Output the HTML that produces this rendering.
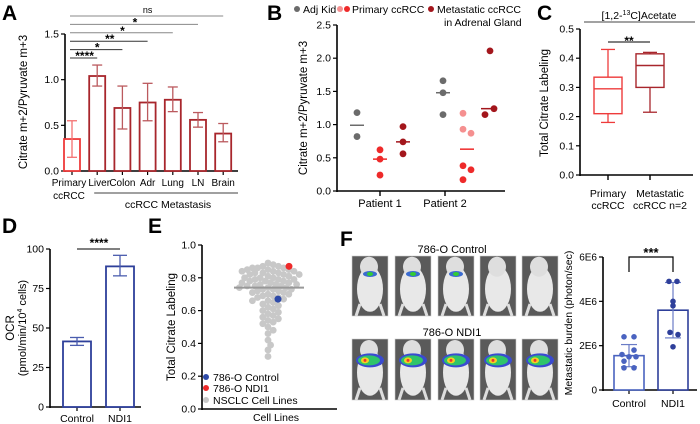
<!DOCTYPE html>
<html><head><meta charset="utf-8"><style>
html,body{margin:0;padding:0;background:#fff}
svg{display:block;font-family:"Liberation Sans",Arial,sans-serif}
</style></head><body>
<svg id="fig" width="700" height="424" viewBox="0 0 700 424" xmlns="http://www.w3.org/2000/svg">
<g font-weight="bold" font-size="21" fill="#000">
<text x="2" y="20">A</text>
<text x="267" y="20">B</text>
<text x="537" y="20">C</text>
<text x="2" y="233">D</text>
<text x="148" y="233">E</text>
<text x="340" y="246">F</text>
</g>
<g id="gA"></g>
<g id="gB"></g>
<g id="gC"></g>
<g id="gD"></g>
<g id="gE"></g>
<g id="gF"></g>
<g id="gG"></g>
</svg>
<script>
// ---------- data ----------
const aCats = ["Primary","Liver","Colon","Adr","Lung","LN","Brain"];
const aMeans = [0.35,1.04,0.69,0.75,0.78,0.56,0.41];
const aLo = [0.15,0.93,0.46,0.55,0.65,0.48,0.32];
const aHi = [0.55,1.16,0.93,0.96,0.92,0.64,0.52];
const aTicks = [0,0.5,1.0,1.5];
const aSig = ["****","*","**","*","*","ns"];

const bPatients = ["Patient 1","Patient 2"];
const bAdj1 = [1.18,0.82]; const bPri1 = [0.62,0.48,0.24]; const bMet1 = [0.97,0.74,0.56];
const bAdj2 = [1.66,1.48,1.15]; const bPri2Pink = [1.17,0.93,0.87]; const bPri2Red = [0.38,0.32,0.17]; const bMet2 = [2.11,1.24,1.15];
const bMed1 = [0.99,0.48,0.74]; const bMed2 = [1.48,0.63,1.24];
const bTicks = [0,0.5,1.0,1.5,2.0,2.5];

const cCats = ["Primary","Metastatic"];
const cMin = [0.18,0.215]; const cQ1 = [0.21,0.30]; const cMed = [0.295,0.375]; const cQ3 = [0.335,0.415]; const cMax = [0.43,0.42];
const cTicks = [0,0.1,0.2,0.3,0.4,0.5];

const dCats = ["Control","NDI1"];
const dMeans = [41.5,89]; const dLo = [39,83]; const dHi = [44,96];
const dTicks = [0,25,50,75,100];

const eVals = [0.89,0.88,0.87,0.87,0.86,0.86,0.86,0.85,0.85,0.85,0.84,0.84,0.84,0.83,0.83,0.83,0.82,0.82,0.82,0.81,0.81,0.80,0.80,0.80,0.79,0.79,0.79,0.78,0.78,0.78,0.77,0.77,0.77,0.76,0.76,0.76,0.75,0.75,0.75,0.74,0.74,0.74,0.73,0.73,0.73,0.72,0.72,0.71,0.71,0.70,0.70,0.69,0.69,0.68,0.68,0.67,0.66,0.66,0.65,0.64,0.63,0.62,0.61,0.60,0.59,0.58,0.57,0.56,0.55,0.54,0.53,0.52,0.50,0.48,0.46,0.42,0.39,0.36,0.32];
const eControl = 0.67; const eNDI1 = 0.87; const eMedian = 0.74;
const eTicks = [0,0.2,0.4,0.6,0.8,1.0];

const gCats = ["Control","NDI1"];
const gMeans = [1.55,3.6]; const gLo = [1.05,2.35]; const gHi = [2.05,4.85];
const gCtrlPts = [2.4,2.4,1.8,1.6,1.5,1.5,1.3,1.0,1.0];
const gNdiPts = [4.9,4.9,4.0,3.8,2.6,2.5,1.95];
const gTicks = [0,2,4,6];
const gTickLabels = ["0","2E6","4E6","6E6"];

// ---------- helpers ----------
const NS="http://www.w3.org/2000/svg";
function mk(parent,tag,attrs,text){const e=document.createElementNS(NS,tag);for(const k in attrs)e.setAttribute(k,attrs[k]);if(text!==undefined)e.textContent=text;parent.appendChild(e);return e;}
function fmt(v,d){return v.toFixed(d);}

// ---------- Panel A ----------
(function(){
const g=document.getElementById('gA');
const y0=171,y1=34,vmax=1.5; const Y=v=>y0-(v/vmax)*(y0-y1);
const X=i=>72+i*25.2; const ax=65;
let e;
e=mk(g,'line',{x1:ax,y1:y1,x2:ax,y2:y0+1,stroke:'#000','stroke-width':1.6});

e=mk(g,'line',{x1:ax,y1:y0,x2:238,y2:y0,stroke:'#000','stroke-width':1.6});

aTicks.forEach(t=>{mk(g,'line',{x1:ax-4,y1:Y(t),x2:ax,y2:Y(t),stroke:'#000','stroke-width':1.2});
 e=mk(g,'text',{x:ax-6,y:Y(t)+3.5,'text-anchor':'end','font-size':10.5},fmt(t,1));
 });
aCats.forEach((c,i)=>{const col=i===0?'#ee3b3b':'#a8262c';
 mk(g,'line',{x1:X(i),y1:y0,x2:X(i),y2:y0+4,stroke:'#000','stroke-width':1.2});
 e=mk(g,'rect',{x:X(i)-8,y:Y(aMeans[i]),width:16,height:y0-Y(aMeans[i]),fill:'#fff',stroke:col,'stroke-width':1.8});
 
 const ec=i===0?'#f47070':'#bb5a5e';
 mk(g,'line',{x1:X(i),y1:Y(aLo[i]),x2:X(i),y2:Y(aHi[i]),stroke:ec,'stroke-width':1.3});
 mk(g,'line',{x1:X(i)-5,y1:Y(aLo[i]),x2:X(i)+5,y2:Y(aLo[i]),stroke:ec,'stroke-width':1.3});
 mk(g,'line',{x1:X(i)-5,y1:Y(aHi[i]),x2:X(i)+5,y2:Y(aHi[i]),stroke:ec,'stroke-width':1.3});
 e=mk(g,'text',{x:X(i)+(i===0?-3:i===1?2:0),y:186,'text-anchor':'middle','font-size':10},c);
 
});
mk(g,'text',{x:X(0)-3,y:199,'text-anchor':'middle','font-size':10},'ccRCC');
mk(g,'line',{x1:X(1)-3,y1:193,x2:238,y2:193,stroke:'#000','stroke-width':0.8});
e=mk(g,'text',{x:168,y:208,'text-anchor':'middle','font-size':10.5},'ccRCC Metastasis');

aSig.forEach((s,k)=>{const yy=58-k*8.4; const x2=X(k+1);
 e=mk(g,'line',{x1:X(0)-2,y1:yy,x2:x2,y2:yy,stroke:k<3?'#333':'#888','stroke-width':1});
 
 mk(g,'text',{x:(X(0)+x2)/2,y:yy-(s==='ns'?3:0)+(s==='ns'?0:2),'text-anchor':'middle','font-size':s==='ns'?9:12,'font-weight':s==='ns'?'normal':'bold'},s);
});
e=mk(g,'text',{transform:'translate(27,102) rotate(-90)','text-anchor':'middle','font-size':11.5},'Citrate m+2/Pyruvate m+3');

})();

// ---------- Panel B ----------
(function(){
const g=document.getElementById('gB');
const y0=191,y1=25,vmax=2.5; const Y=v=>y0-(v/vmax)*(y0-y1); const ax=337;
let e;
e=mk(g,'line',{x1:ax,y1:y1,x2:ax,y2:y0+1,stroke:'#000','stroke-width':1.6});

e=mk(g,'line',{x1:ax,y1:y0,x2:505,y2:y0,stroke:'#000','stroke-width':1.6});

bTicks.forEach(t=>{mk(g,'line',{x1:ax-4,y1:Y(t),x2:ax,y2:Y(t),stroke:'#000','stroke-width':1.2});
 mk(g,'text',{x:ax-6,y:Y(t)+3.5,'text-anchor':'end','font-size':10.5},fmt(t,1));});
const pc=[380,445];
bPatients.forEach((p,i)=>{mk(g,'line',{x1:pc[i],y1:y0,x2:pc[i],y2:y0+5,stroke:'#000','stroke-width':1.4});
 e=mk(g,'text',{x:pc[i],y:207,'text-anchor':'middle','font-size':11},p);
 });
const gray='#6b6b6b',pink='#f59090',red='#ee2a2a',dred='#a3161c';
function dots(vals,x,col,name,jit){vals.forEach((v,k)=>{e=mk(g,'circle',{cx:x+(jit?jit[k]:0),cy:Y(v),r:3.4,fill:col});
 });}
function med(v,x,col){mk(g,'line',{x1:x-7,y1:Y(v),x2:x+7,y2:Y(v),stroke:col,'stroke-width':1.5});}
dots(bAdj1,357,gray,'b-adj-kid-point'); med(bMed1[0],357,gray);
dots(bPri1,380,red,'b-primary-point'); med(bMed1[1],380,red);
dots(bMet1,403,dred,'b-metastatic-point'); med(bMed1[2],403,dred);
dots(bAdj2,443,gray,'b-adj-kid-point'); med(bMed2[0],443,gray);
dots(bPri2Pink,467,pink,'b-primary-point',[-4,-4,4]);
dots(bPri2Red,467,red,'b-primary-point',[-4,4,-4]); med(bMed2[1],467,red);
dots(bMet2,490,dred,'b-metastatic-point',[0,4,-5]); med(bMed2[2],488,dred);
const lg=mk(g,'g',{'font-size':10.5});

mk(lg,'circle',{cx:297,cy:9,r:3,fill:gray});mk(lg,'text',{x:303,y:13},'Adj Kid');
mk(lg,'circle',{cx:340,cy:9,r:3,fill:pink});mk(lg,'circle',{cx:347,cy:9,r:3,fill:red});mk(lg,'text',{x:352,y:13},'Primary ccRCC');
mk(lg,'circle',{cx:431,cy:9,r:3,fill:dred});mk(lg,'text',{x:437,y:13},'Metastatic ccRCC');mk(lg,'text',{x:444,y:26},'in Adrenal Gland');
e=mk(g,'text',{transform:'translate(307,108) rotate(-90)','text-anchor':'middle','font-size':11.5},'Citrate m+2/Pyruvate m+3');

})();

// ---------- Panel C ----------
(function(){
const g=document.getElementById('gC');
const y0=175,y1=29,vmax=0.5; const Y=v=>y0-(v/vmax)*(y0-y1); const ax=580;
let e;
e=mk(g,'line',{x1:ax,y1:y1,x2:ax,y2:y0+1,stroke:'#000','stroke-width':1.6});

e=mk(g,'line',{x1:ax,y1:y0,x2:693,y2:y0,stroke:'#000','stroke-width':1.6});

cTicks.forEach(t=>{mk(g,'line',{x1:ax-4,y1:Y(t),x2:ax,y2:Y(t),stroke:'#000','stroke-width':1.2});
 mk(g,'text',{x:ax-6,y:Y(t)+3.5,'text-anchor':'end','font-size':10.5},fmt(t,1));});
const xs=[608,650],cols=['#ee3b3b','#a8262c'];
cCats.forEach((c,i)=>{const x=xs[i],col=cols[i];
 mk(g,'line',{x1:x,y1:y0,x2:x,y2:y0+5,stroke:'#000','stroke-width':1.4});
 mk(g,'line',{x1:x,y1:Y(cMax[i]),x2:x,y2:Y(cQ3[i]),stroke:col,'stroke-width':1.3});
 mk(g,'line',{x1:x,y1:Y(cQ1[i]),x2:x,y2:Y(cMin[i]),stroke:col,'stroke-width':1.3});
 mk(g,'line',{x1:x-7,y1:Y(cMax[i]),x2:x+7,y2:Y(cMax[i]),stroke:col,'stroke-width':1.3});
 mk(g,'line',{x1:x-7,y1:Y(cMin[i]),x2:x+7,y2:Y(cMin[i]),stroke:col,'stroke-width':1.3});
 e=mk(g,'rect',{x:x-14,y:Y(cQ3[i]),width:28,height:Y(cQ1[i])-Y(cQ3[i]),fill:'#fff',stroke:col,'stroke-width':1.4});
 
 mk(g,'line',{x1:x-14,y1:Y(cMed[i]),x2:x+14,y2:Y(cMed[i]),stroke:col,'stroke-width':1.4});
});
mk(g,'text',{x:608,y:197,'text-anchor':'middle','font-size':10.5},'Primary');
mk(g,'text',{x:608,y:209,'text-anchor':'middle','font-size':10.5},'ccRCC');
mk(g,'text',{x:660,y:197,'text-anchor':'middle','font-size':10.5},'Metastatic');
mk(g,'text',{x:660,y:209,'text-anchor':'middle','font-size':10.5},'ccRCC n=2');
mk(g,'line',{x1:608,y1:42,x2:650,y2:42,stroke:'#000','stroke-width':1});
mk(g,'text',{x:629,y:45,'text-anchor':'middle','font-size':12,'font-weight':'bold'},'**');
mk(g,'line',{x1:584,y1:22,x2:695,y2:22,stroke:'#444','stroke-width':0.9});
e=mk(g,'text',{x:639,y:19,'text-anchor':'middle','font-size':10.5});

e.innerHTML='[1,2-<tspan font-size="7" dy="-4">13</tspan><tspan dy="4">C]Acetate</tspan>';
e=mk(g,'text',{transform:'translate(548,103) rotate(-90)','text-anchor':'middle','font-size':11.5},'Total Citrate Labeling');

})();

// ---------- Panel D ----------
(function(){
const g=document.getElementById('gD');
const y0=407,y1=249,vmax=100; const Y=v=>y0-(v/vmax)*(y0-y1); const ax=50;
let e;
e=mk(g,'line',{x1:ax,y1:y1,x2:ax,y2:y0+1,stroke:'#000','stroke-width':1.6});

e=mk(g,'line',{x1:ax,y1:y0,x2:141,y2:y0,stroke:'#000','stroke-width':1.6});

dTicks.forEach(t=>{mk(g,'line',{x1:ax-4,y1:Y(t),x2:ax,y2:Y(t),stroke:'#000','stroke-width':1.2});
 mk(g,'text',{x:ax-6,y:Y(t)+3.5,'text-anchor':'end','font-size':10.5},String(t));});
const xs=[77,120];
dCats.forEach((c,i)=>{const x=xs[i];
 mk(g,'line',{x1:x,y1:y0,x2:x,y2:y0+4,stroke:'#000','stroke-width':1.2});
 e=mk(g,'rect',{x:x-14,y:Y(dMeans[i]),width:28,height:y0-Y(dMeans[i]),fill:'#fff',stroke:'#2e3f9a','stroke-width':1.8});
 
 mk(g,'line',{x1:x,y1:Y(dLo[i]),x2:x,y2:Y(dHi[i]),stroke:'#4a5cae','stroke-width':1.3});
 mk(g,'line',{x1:x-7,y1:Y(dLo[i]),x2:x+7,y2:Y(dLo[i]),stroke:'#4a5cae','stroke-width':1.3});
 mk(g,'line',{x1:x-7,y1:Y(dHi[i]),x2:x+7,y2:Y(dHi[i]),stroke:'#4a5cae','stroke-width':1.3});
 mk(g,'text',{x:x,y:422,'text-anchor':'middle','font-size':10.5},c);
});
mk(g,'line',{x1:77,y1:249,x2:120,y2:249,stroke:'#000','stroke-width':1});
mk(g,'text',{x:99,y:247,'text-anchor':'middle','font-size':12,'font-weight':'bold'},'****');
e=mk(g,'text',{transform:'translate(14,328) rotate(-90)','text-anchor':'middle','font-size':11.5},'OCR');
e=mk(g,'text',{transform:'translate(26,328) rotate(-90)','text-anchor':'middle','font-size':11});

e.innerHTML='(pmol/min/10<tspan font-size="7" dy="-4">4</tspan><tspan dy="4"> cells)</tspan>';
})();

// ---------- Panel E ----------
(function(){
const g=document.getElementById('gE');
const y0=409,y1=245,vmax=1.0; const Y=v=>y0-(v/vmax)*(y0-y1); const ax=202; const cx=268;
let e;
e=mk(g,'line',{x1:ax,y1:y1,x2:ax,y2:y0+1,stroke:'#000','stroke-width':1.6});

e=mk(g,'line',{x1:ax,y1:y0,x2:337,y2:y0,stroke:'#000','stroke-width':1.6});

eTicks.forEach(t=>{mk(g,'line',{x1:ax-4,y1:Y(t),x2:ax,y2:Y(t),stroke:'#000','stroke-width':1.2});
 mk(g,'text',{x:ax-6,y:Y(t)+3.5,'text-anchor':'end','font-size':10.5},fmt(t,1));});
const placed=[]; const r=3.4,d=5.2;
eVals.forEach(v=>{const y=Y(v);let x=cx;
 for(let k=0;k<60;k++){const off=(k%2?1:-1)*Math.ceil(k/2)*2.6;const tx=cx+off;
  if(placed.every(p=>Math.hypot(p[0]-tx,p[1]-y)>=d)){x=tx;break;}}
 placed.push([x,y]);
 e=mk(g,'circle',{cx:x,cy:y,r:r,fill:'#c8c8c8'});
 });
mk(g,'line',{x1:234,y1:Y(eMedian),x2:304,y2:Y(eMedian),stroke:'#999','stroke-width':2});
e=mk(g,'circle',{cx:289,cy:Y(eNDI1),r:3.5,fill:'#ee2a2a'});

e=mk(g,'circle',{cx:278,cy:Y(eControl),r:3.5,fill:'#2e4aa8'});

const lg=mk(g,'g',{'font-size':10.5});

mk(lg,'circle',{cx:206,cy:377,r:3,fill:'#2e4aa8'});mk(lg,'text',{x:213,y:381},'786-O Control');
mk(lg,'circle',{cx:206,cy:388,r:3,fill:'#ee2a2a'});mk(lg,'text',{x:213,y:392},'786-O NDI1');
mk(lg,'circle',{cx:206,cy:400,r:3,fill:'#c8c8c8'});mk(lg,'text',{x:213,y:404},'NSCLC Cell Lines');
mk(g,'text',{x:276,y:421,'text-anchor':'middle','font-size':10.5},'Cell Lines');
e=mk(g,'text',{transform:'translate(175,327) rotate(-90)','text-anchor':'middle','font-size':11.5},'Total Citrate Labeling');

})();

// ---------- Panel F images ----------
(function(){
const g=document.getElementById('gF');
let e;
e=mk(g,'text',{x:452,y:253,'text-anchor':'middle','font-size':11},'786-O Control');

e=mk(g,'text',{x:452,y:336,'text-anchor':'middle','font-size':11},'786-O NDI1');

const xs=[352,395,438,480,522];
const rows=[[256,60,false],[339,61,true]];
rows.forEach(([y,h,hot],ri)=>xs.forEach((x,i)=>{
 const gi=mk(g,'g',{});
 
 
 mk(gi,'rect',{x:x,y:y,width:36,height:h,fill:'#5a5a5a',stroke:'#ccc','stroke-width':0.6});
 mk(gi,'ellipse',{cx:x+18,cy:y+h*0.55,rx:13,ry:h*0.38,fill:'#e8e8e8'});
 mk(gi,'ellipse',{cx:x+17,cy:y+h*0.18,rx:9,ry:10,fill:'#dedede'});
 mk(gi,'path',{d:`M${x+8} ${y+h*0.8} L${x+4} ${y+h} M${x+28} ${y+h*0.8} L${x+32} ${y+h}`,stroke:'#ddd','stroke-width':3});
 if(hot){mk(gi,'ellipse',{cx:x+18,cy:y+h*0.35,rx:14,ry:7,fill:'#3a4bd0'});
  mk(gi,'ellipse',{cx:x+17,cy:y+h*0.35,rx:11,ry:5,fill:'#2fc46a'});
  mk(gi,'ellipse',{cx:x+13,cy:y+h*0.35,rx:4,ry:3,fill:'#f3d020'});
  mk(gi,'circle',{cx:x+13,cy:y+h*0.35,r:1.5,fill:'#e33'});}
 else if(i<3){mk(gi,'ellipse',{cx:x+18,cy:y+h*0.3,rx:7,ry:3,fill:'#3a6bd0'});
  mk(gi,'ellipse',{cx:x+18,cy:y+h*0.3,rx:3,ry:2,fill:'#3c3'});}
}));
})();

// ---------- Panel F chart ----------
(function(){
const g=document.getElementById('gG');
const y0=390,y1=257,vmax=6; const Y=v=>y0-(v/vmax)*(y0-y1); const ax=603;
let e;
e=mk(g,'line',{x1:ax,y1:y1,x2:ax,y2:y0+1,stroke:'#000','stroke-width':1.6});

e=mk(g,'line',{x1:ax,y1:y0,x2:697,y2:y0,stroke:'#000','stroke-width':1.6});

gTicks.forEach((t,k)=>{mk(g,'line',{x1:ax-4,y1:Y(t),x2:ax,y2:Y(t),stroke:'#000','stroke-width':1.2});
 mk(g,'text',{x:ax-6,y:Y(t)+3.5,'text-anchor':'end','font-size':10},gTickLabels[k]);});
const xs=[629,673]; const pts=[gCtrlPts,gNdiPts]; const cols=['#4a63c0','#2e3f9a'];
gCats.forEach((c,i)=>{const x=xs[i];
 mk(g,'line',{x1:x,y1:y0,x2:x,y2:y0+4,stroke:'#000','stroke-width':1.2});
 e=mk(g,'rect',{x:x-15,y:Y(gMeans[i]),width:30,height:y0-Y(gMeans[i]),fill:'#fff',stroke:cols[i],'stroke-width':1.6});
 
 mk(g,'line',{x1:x,y1:Y(gLo[i]),x2:x,y2:Y(gHi[i]),stroke:'#6a7cc6','stroke-width':1.2});
 mk(g,'line',{x1:x-8,y1:Y(gLo[i]),x2:x+8,y2:Y(gLo[i]),stroke:'#6a7cc6','stroke-width':1.2});
 mk(g,'line',{x1:x-8,y1:Y(gHi[i]),x2:x+8,y2:Y(gHi[i]),stroke:'#6a7cc6','stroke-width':1.2});
 const jit=i===0?[-5,5,5,-7,0,7,-5,-5,5]:[-4,4,0,0,-3,5,0];
 pts[i].forEach((v,k)=>{e=mk(g,'circle',{cx:x+jit[k],cy:Y(v),r:2.8,fill:cols[i]});
  });
 mk(g,'text',{x:x,y:407,'text-anchor':'middle','font-size':10.5},c);
});
mk(g,'path',{d:'M629 272 V257 H673 V272',fill:'none',stroke:'#000','stroke-width':1.2});
mk(g,'text',{x:651,y:257,'text-anchor':'middle','font-size':13,'font-weight':'bold'},'***');
e=mk(g,'text',{transform:'translate(572,323) rotate(-90)','text-anchor':'middle','font-size':10.5},'Metastatic burden (photon/sec)');

})();
</script>
</body></html>
